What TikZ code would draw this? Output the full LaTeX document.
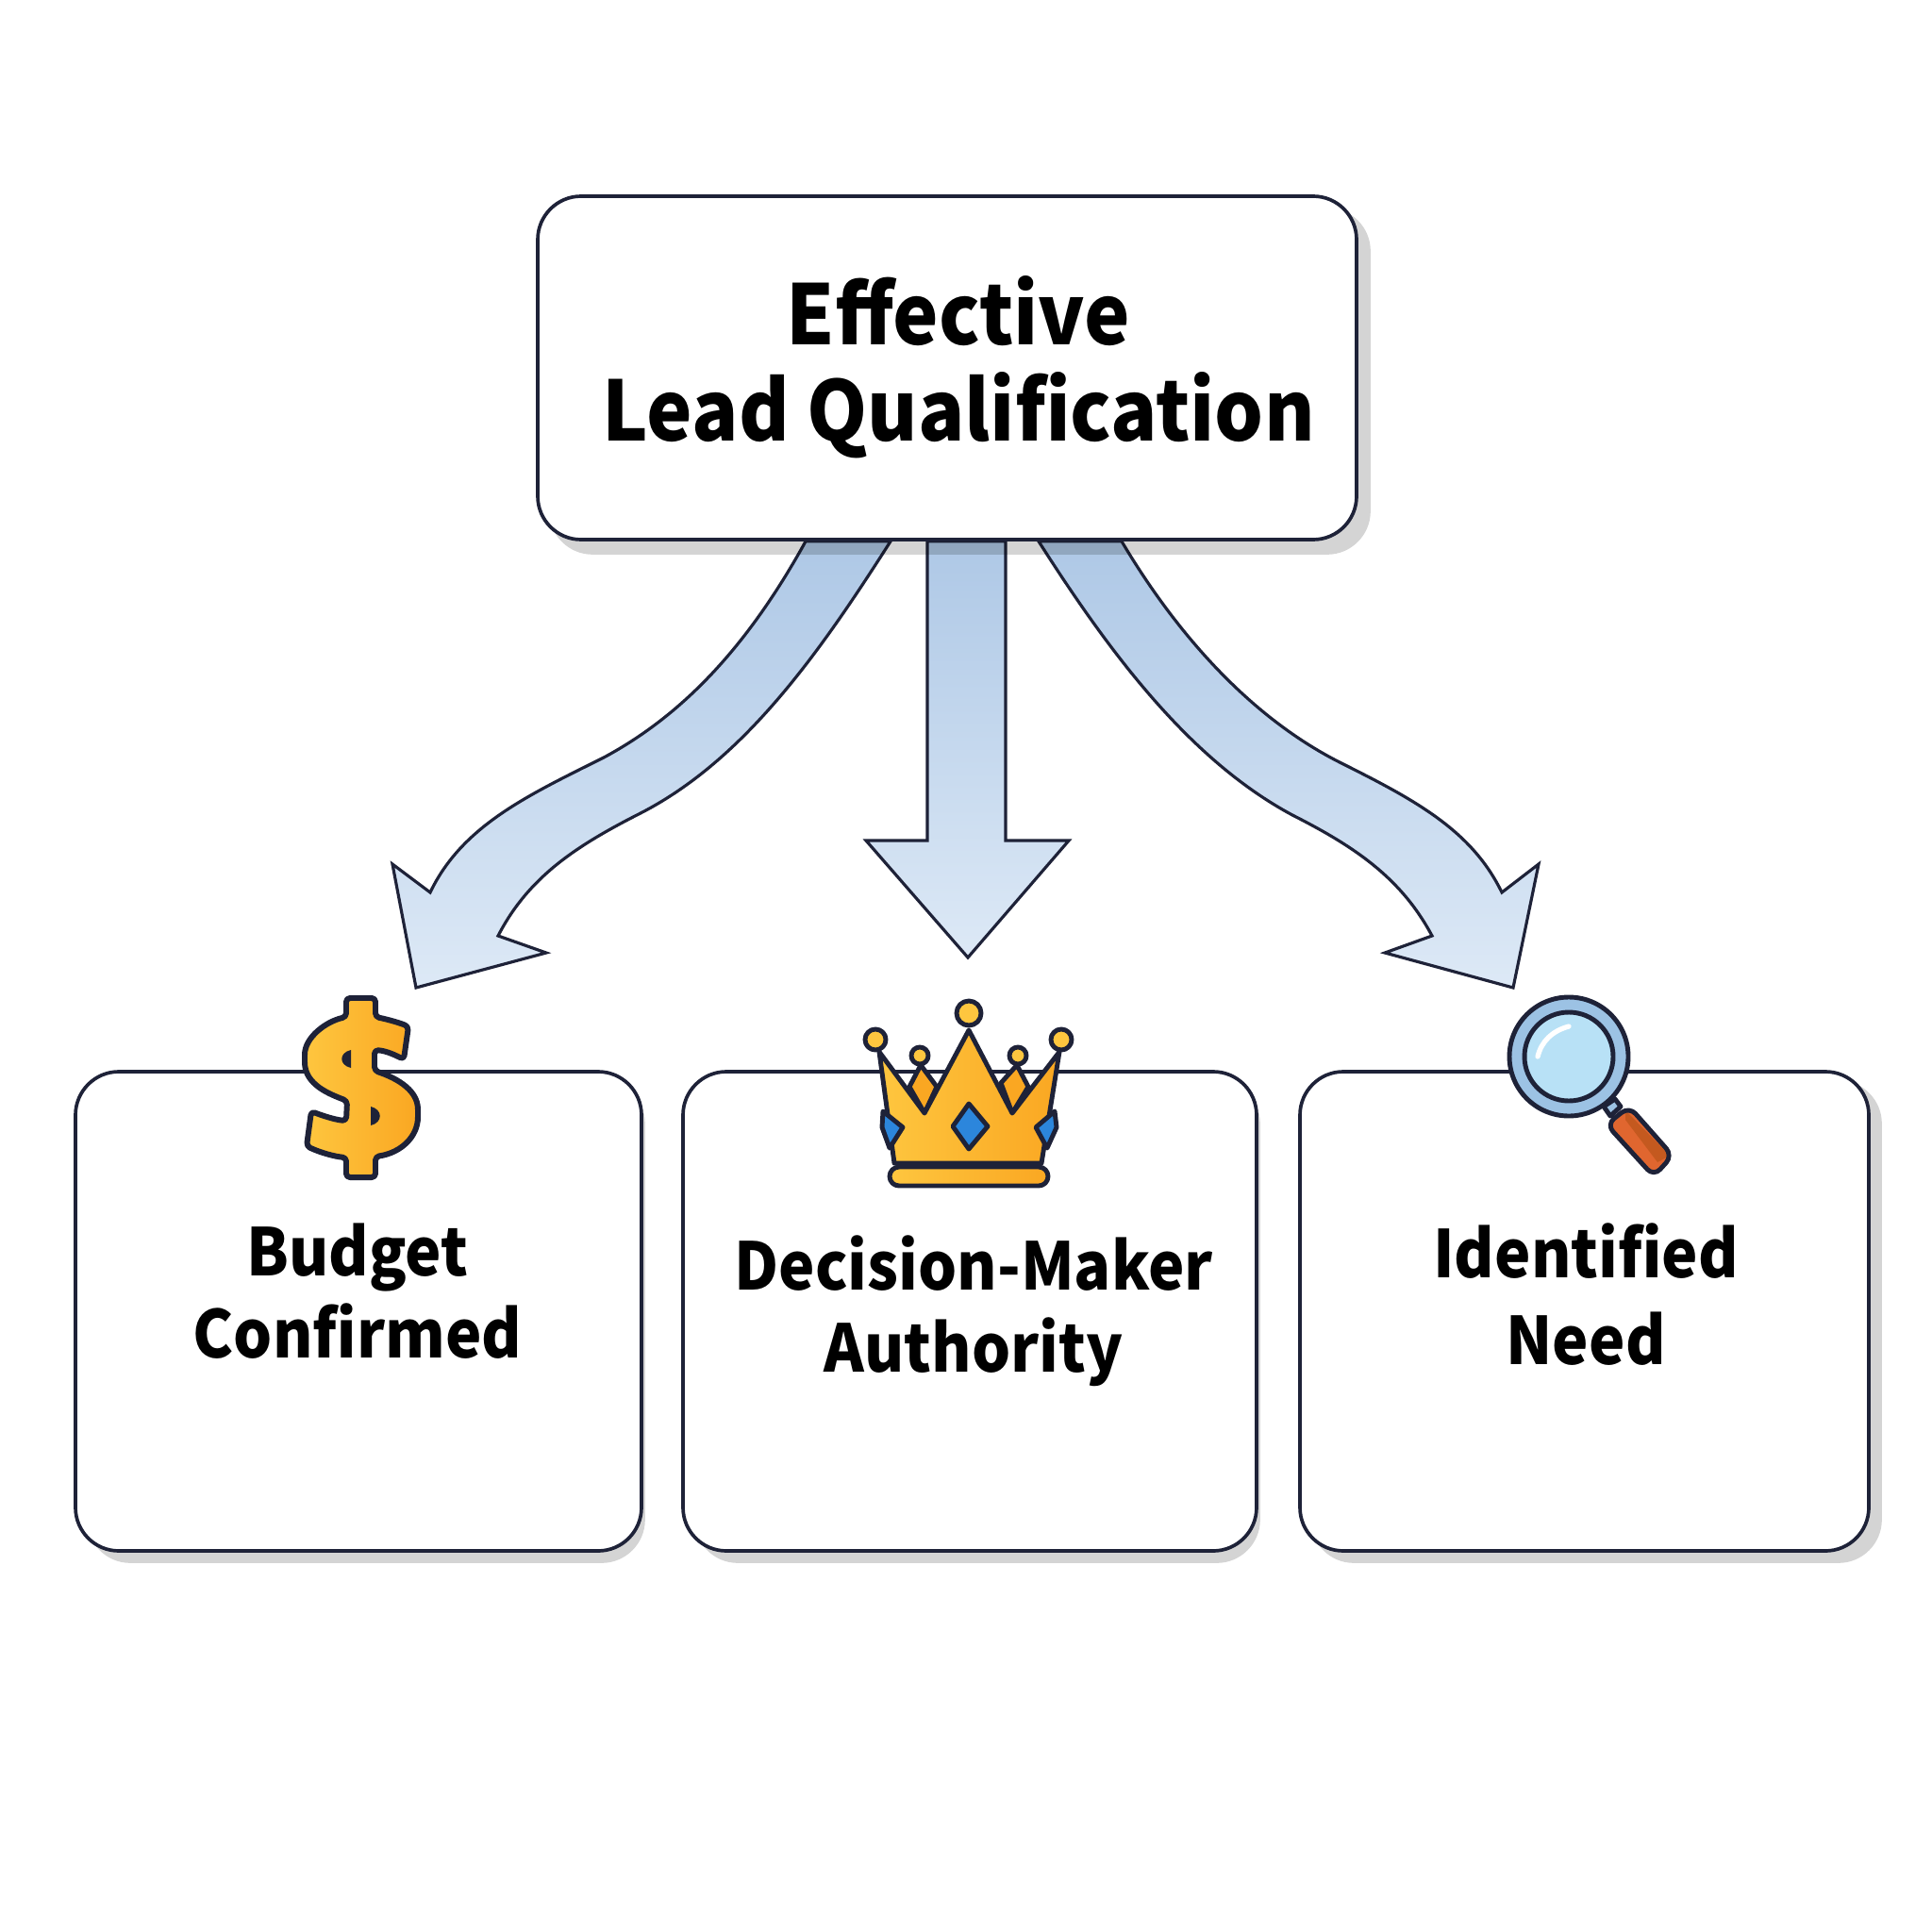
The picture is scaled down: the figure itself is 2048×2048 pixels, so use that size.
\documentclass[tikz,border=0pt]{standalone}
\usepackage{fontspec}
\usetikzlibrary{backgrounds}
\setmainfont{Noto Sans CJK SC}[FakeStretch=0.93]
\definecolor{boxline}{HTML}{1E2238}
\definecolor{gold}{HTML}{FEC63F}
\definecolor{golddark}{HTML}{FAA722}
\definecolor{gem}{HTML}{2C86DC}
\definecolor{lens}{HTML}{B8E1F6}
\definecolor{rim}{HTML}{9CC2E4}
\definecolor{grip}{HTML}{E0662F}
\definecolor{gripdark}{HTML}{C4591F}
\definecolor{arrowtop}{HTML}{AEC8E6}
\definecolor{arrowbot}{HTML}{DDE9F6}
\tikzset{
    cardbox/.style={draw=boxline, line width=1.05pt, fill=white, rounded corners=4.6mm, inner sep=0pt},
    cardshadow/.style={fill=black, fill opacity=0.17, rounded corners=4.6mm},
    fatarrow/.style={draw=boxline, line width=0.9pt, line join=miter, top color=arrowtop, bottom color=arrowbot},
    cardtext/.style={font=\bfseries\fontsize{19.8}{24.8}\selectfont, align=center},
    icon/.style={draw=boxline, line width=1.4pt, line join=round},
    goldfill/.style={left color=gold, middle color=gold, right color=golddark}
}
\begin{document}
\begin{tikzpicture}[x=0.1mm,y=-0.1mm]
    \useasboundingbox (0,0) rectangle (2048,2048);

    % boxes
    \node[cardbox, minimum width=86.8mm, minimum height=36.4mm] (lead) at (1004,390) {};
    \node[cardbox, minimum width=60mm, minimum height=50.8mm] (budget) at (380,1390) {};
    \node[cardbox, minimum width=60.8mm, minimum height=50.8mm] (authority) at (1028,1390) {};
    \node[cardbox, minimum width=60.3mm, minimum height=50.8mm] (need) at (1679.5,1390) {};

    \begin{scope}[on background layer]
        \fill[white] (0,0) rectangle (2048,2048);
        % arrows go under the shadows
        \draw[fatarrow] ([xshift=-15mm]lead.south) .. controls (790,690) and (720,760) .. (640,803) .. controls (560,843) and (490,875) .. (456,946)
            -- (416,916) -- (441,1047) -- (579,1010) -- (528,992)
            .. controls (560,930) and (610,897) .. (679,862) .. controls (790,805) and (870,690) .. ([xshift=-6mm]lead.south) -- cycle;
        \draw[fatarrow] ([xshift=-2.1mm]lead.south) -- (983,891) -- (918,891) -- (1026,1015) -- (1133,891) -- (1066,891) -- ([xshift=6.2mm]lead.south) -- cycle;
        \draw[fatarrow] ([xshift=18.5mm]lead.south) .. controls (1255,685) and (1335,765) .. (1420,808) .. controls (1500,848) and (1560,880) .. (1592,946)
            -- (1631,916) -- (1604,1047) -- (1468,1010) -- (1518,992)
            .. controls (1485,930) and (1435,897) .. (1370,864) .. controls (1260,805) and (1175,690) .. ([xshift=9.7mm]lead.south) -- cycle;
        % shadows
        \fill[cardshadow] ([shift={(14,14)}]lead.south west) rectangle ([shift={(13,14)}]lead.north east);
        \fill[cardshadow] ([shift={(14,11)}]budget.south west) rectangle ([shift={(2,11)}]budget.north east);
        \fill[cardshadow] ([shift={(14,11)}]authority.south west) rectangle ([shift={(2,11)}]authority.north east);
        \fill[cardshadow] ([shift={(13,11)}]need.south west) rectangle ([shift={(12,11)}]need.north east);
    \end{scope}

    \node[font=\bfseries\fontsize{25}{29}\selectfont, align=center] (leadtext) at (1016,389) {Effective\\Lead Qualification};
    \node[cardtext] (budgettext) at (379,1369) {Budget\\Confirmed};
    \node[cardtext] (authoritytext) at (1032,1390) {Decision-Maker\\Authority};
    \node[cardtext] (needtext) at (1681,1372) {Identified\\[0.5mm]Need};

    % dollar
    \draw[icon, goldfill, line width=1.7pt, rounded corners=0.4mm] (367,1058) -- (367,1078)
        .. controls (345,1083) and (323,1100) .. (323,1122)
        .. controls (323,1150) and (350,1160) .. (368,1167) -- (367,1188)
        .. controls (355,1187) and (340,1182) .. (330,1178) -- (325,1215)
        .. controls (340,1222) and (355,1226) .. (367,1227) -- (367,1248) -- (398,1248) -- (398,1226)
        .. controls (425,1222) and (443,1205) .. (443,1180)
        .. controls (443,1153) and (415,1141) .. (397,1135) -- (397,1113)
        .. controls (410,1114) and (420,1119) .. (428,1123) -- (433,1088)
        .. controls (420,1083) and (408,1080) .. (398,1078) -- (398,1058) -- cycle;
    \fill[boxline] (372,1113) .. controls (359,1116) and (359,1129) .. (372,1132) -- cycle;
    \fill[boxline] (393,1173) .. controls (406,1176) and (406,1190) .. (393,1193) -- cycle;

    % crown
    \draw[icon, fill=golddark] (976,1129) -- (993,1152) -- (980,1180) -- (964,1152) -- cycle;
    \draw[icon, fill=golddark] (1078,1129) -- (1090,1152) -- (1073,1180) -- (1061,1148) -- cycle;
    \draw[icon, goldfill] (932,1115) -- (948,1233) -- (1104,1233) -- (1123,1115) -- (1073,1180) -- (1027,1092) -- (980,1180) -- cycle;
    \draw[icon, fill=gem] (936,1178) -- (957,1195) -- (943,1217) -- (935,1195) -- cycle;
    \draw[icon, fill=gem] (1118,1178) -- (1098,1195) -- (1110,1217) -- (1120,1195) -- cycle;
    \draw[icon, fill=gem] (1027,1170) -- (1047,1194) -- (1027,1218) -- (1010,1194) -- cycle;
    \draw[icon, goldfill, rounded corners=1mm] (943,1237) rectangle (1111,1257);
    \draw[icon, fill=gold] (1027,1074) circle [radius=1.3mm];
    \draw[icon, fill=gold] (928,1102) circle [radius=1.1mm];
    \draw[icon, fill=gold] (1125,1102) circle [radius=1.1mm];
    \draw[icon, fill=gold] (975,1119) circle [radius=0.9mm];
    \draw[icon, fill=gold] (1079,1119) circle [radius=0.9mm];

    % magnifier
    \draw[icon, fill=rim] (1700,1173) -- (1712,1165) -- (1718,1173) -- (1707,1183) -- cycle;
    \fill[grip, rounded corners=1mm] (1703,1192) -- (1727,1173) -- (1773,1225) -- (1753,1247) -- cycle;
    \fill[gripdark] (1723,1177) -- (1770,1225) -- (1757,1232) -- (1723,1187) -- cycle;
    \draw[icon, rounded corners=1mm] (1703,1192) -- (1727,1173) -- (1773,1225) -- (1753,1247) -- cycle;
    \draw[icon, fill=rim] (1663,1120) circle [radius=6.3mm];
    \draw[icon, fill=lens] (1663,1120) circle [radius=4.7mm];
    \draw[white, line width=1.5pt, line cap=round] (1630,1120) .. controls (1634,1104) and (1645,1093) .. (1663,1088);
\end{tikzpicture}
\end{document}
